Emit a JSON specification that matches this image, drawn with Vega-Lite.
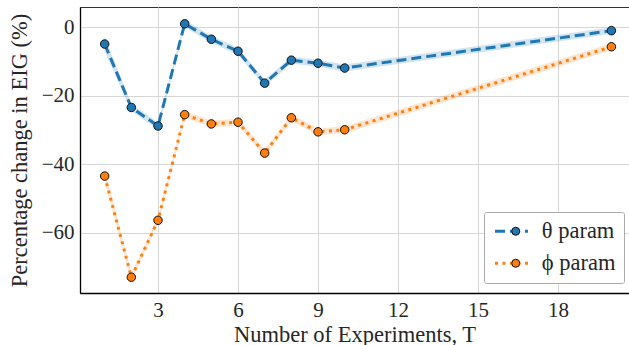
{
  "$schema": "https://vega.github.io/schema/vega-lite/v6.json",
  "width": 549,
  "height": 286,
  "autosize": {"type": "none"},
  "padding": {"left": 80, "top": 7, "right": 0, "bottom": 52},
  "background": "white",
  "config": {
    "font": "Times New Roman, Liberation Serif, DejaVu Serif, serif",
    "view": {"stroke": "#333333", "strokeWidth": 1},
    "axis": {
      "grid": true,
      "gridColor": "#d6d6d6",
      "gridWidth": 1,
      "ticks": false,
      "domainColor": "#000000",
      "domainWidth": 1.3,
      "labelFont": "Times New Roman, Liberation Serif, DejaVu Serif, serif",
      "labelFontSize": 21,
      "labelColor": "#262626",
      "titleFont": "Times New Roman, Liberation Serif, DejaVu Serif, serif",
      "titleFontSize": 22.5,
      "titleFontWeight": "normal",
      "titleColor": "#262626"
    },
    "legend": {"labelFont": "Times New Roman, Liberation Serif, DejaVu Serif, serif"}
  },
  "data": {
    "values": [
      {"T": 1, "series": "θ param", "val": -4.9, "lo": -7.0, "hi": -2.8},
      {"T": 2, "series": "θ param", "val": -23.4, "lo": -24.4, "hi": -22.4},
      {"T": 3, "series": "θ param", "val": -28.8, "lo": -29.8, "hi": -27.8},
      {"T": 4, "series": "θ param", "val": 1.0, "lo": 0.0, "hi": 2.0},
      {"T": 5, "series": "θ param", "val": -3.5, "lo": -4.5, "hi": -2.5},
      {"T": 6, "series": "θ param", "val": -7.0, "lo": -8.0, "hi": -6.0},
      {"T": 7, "series": "θ param", "val": -16.3, "lo": -17.3, "hi": -15.3},
      {"T": 8, "series": "θ param", "val": -9.6, "lo": -10.6, "hi": -8.6},
      {"T": 9, "series": "θ param", "val": -10.5, "lo": -11.5, "hi": -9.5},
      {"T": 10, "series": "θ param", "val": -11.9, "lo": -12.9, "hi": -10.9},
      {"T": 20, "series": "θ param", "val": -1.0, "lo": -2.0, "hi": 0.0},
      {"T": 1, "series": "ϕ param", "val": -43.4, "lo": -45.2, "hi": -40.8},
      {"T": 2, "series": "ϕ param", "val": -72.9, "lo": -73.9, "hi": -71.9},
      {"T": 3, "series": "ϕ param", "val": -56.3, "lo": -57.3, "hi": -55.3},
      {"T": 4, "series": "ϕ param", "val": -25.5, "lo": -26.5, "hi": -24.5},
      {"T": 5, "series": "ϕ param", "val": -28.2, "lo": -29.2, "hi": -27.2},
      {"T": 6, "series": "ϕ param", "val": -27.7, "lo": -28.7, "hi": -26.7},
      {"T": 7, "series": "ϕ param", "val": -36.7, "lo": -37.7, "hi": -35.7},
      {"T": 8, "series": "ϕ param", "val": -26.4, "lo": -27.4, "hi": -25.4},
      {"T": 9, "series": "ϕ param", "val": -30.5, "lo": -31.5, "hi": -29.5},
      {"T": 10, "series": "ϕ param", "val": -29.9, "lo": -30.9, "hi": -28.9},
      {"T": 20, "series": "ϕ param", "val": -5.7, "lo": -6.7, "hi": -4.7}
    ]
  },
  "encoding": {
    "x": {
      "field": "T",
      "type": "quantitative",
      "scale": {"domain": [0.075, 20.66], "nice": false, "zero": false},
      "axis": {"values": [3, 6, 9, 12, 15, 18], "title": "Number of Experiments, T", "labelPadding": 6, "titlePadding": 3}
    }
  },
  "layer": [
    {
      "transform": [{"filter": "datum.series === 'θ param'"}],
      "mark": {"type": "area", "color": "#1f77b4", "opacity": 0.2},
      "encoding": {
        "y": {"field": "lo", "type": "quantitative"},
        "y2": {"field": "hi"}
      }
    },
    {
      "transform": [{"filter": "datum.series === 'ϕ param'"}],
      "mark": {"type": "area", "color": "#ff7f0e", "opacity": 0.2},
      "encoding": {
        "y": {"field": "lo", "type": "quantitative"},
        "y2": {"field": "hi"}
      }
    },
    {
      "mark": {"type": "line", "strokeWidth": 3, "strokeCap": "butt"},
      "encoding": {
        "y": {
          "field": "val",
          "type": "quantitative",
          "scale": {"domain": [-77.5, 5.9], "nice": false, "zero": false},
          "axis": {"values": [0, -20, -40, -60], "title": "Percentage change in EIG (%)", "labelPadding": 6, "titlePadding": 10}
        },
        "color": {
          "field": "series",
          "type": "nominal",
          "scale": {"domain": ["θ param", "ϕ param"], "range": ["#1f77b4", "#ff7f0e"]},
          "legend": {
            "title": null,
            "orient": "none",
            "legendX": 404,
            "legendY": 205,
            "symbolType": "M-2,0H2",
            "symbolSize": 272,
            "symbolOffset": 8.25,
            "symbolStrokeWidth": 3,
            "labelFontSize": 22.5,
            "labelColor": "#262626",
            "labelOffset": 19,
            "rowPadding": 9,
            "padding": 8,
            "strokeColor": "#aaaaaa",
            "fillColor": "white",
            "cornerRadius": 2
          }
        },
        "strokeDash": {
          "field": "series",
          "type": "nominal",
          "scale": {"domain": ["θ param", "ϕ param"], "range": [[10, 5], [3, 4.5]]},
          "legend": {"title": null, "orient": "none", "legendX": 404, "legendY": 205}
        }
      }
    },
    {
      "mark": {"type": "point", "filled": true, "shape": "circle", "size": 72, "stroke": "#111111", "strokeWidth": 1, "opacity": 1},
      "encoding": {
        "y": {"field": "val", "type": "quantitative"},
        "fill": {
          "field": "series",
          "type": "nominal",
          "scale": {"range": ["#1f77b4", "#ff7f0e"]},
          "legend": {
            "title": null,
            "orient": "none",
            "legendX": 404,
            "legendY": 205,
            "symbolType": "circle",
            "symbolSize": 64,
            "symbolOffset": 12.5,
            "symbolStrokeColor": "#111111",
            "symbolStrokeWidth": 1,
            "symbolOpacity": 1,
            "labelFontSize": 22.5,
            "labelOpacity": 0,
            "labelOffset": 19,
            "rowPadding": 9,
            "padding": 8
          }
        }
      }
    }
  ]
}
